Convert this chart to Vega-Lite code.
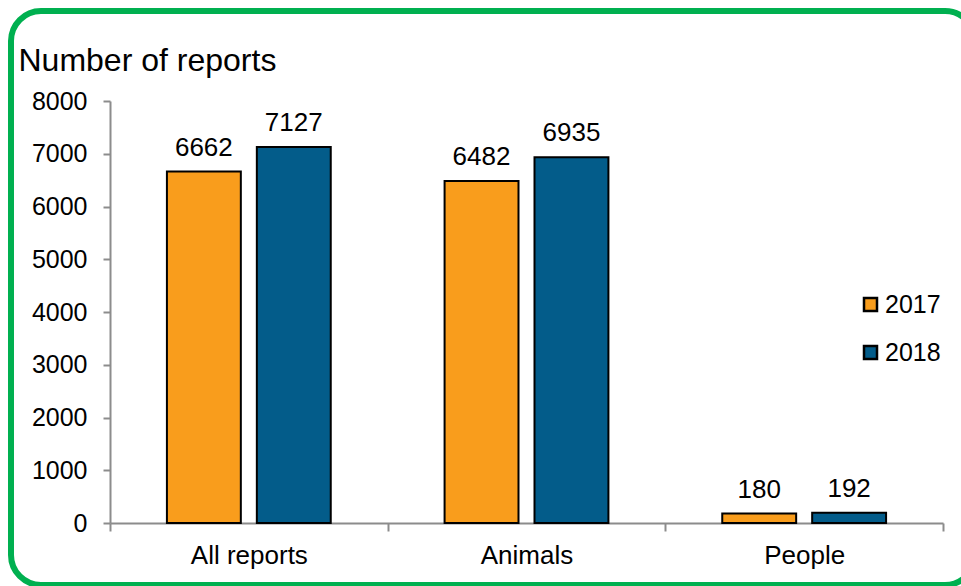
{
  "$schema": "https://vega.github.io/schema/vega-lite/v6.json",
  "width": 833,
  "height": 422,
  "autosize": {"type": "none"},
  "padding": {"left": 110, "top": 101, "right": 18, "bottom": 63},
  "background": "white",
  "config": {
    "view": {"stroke": null},
    "font": "Liberation Sans"
  },
  "layer": [
    {
      "data": {"values": [{"frame": "border"}]},
      "mark": {"type": "rect", "fill": null, "stroke": "#00B050", "strokeWidth": 6, "cornerRadius": 30, "clip": false},
      "encoding": {
        "x": {"value": -99},
        "x2": {"value": 865},
        "y": {"value": -90},
        "y2": {"value": 484}
      }
    },
    {
      "data": {
        "values": [
          {"category": "All reports", "year": "2017", "reports": 6662},
          {"category": "All reports", "year": "2018", "reports": 7127},
          {"category": "Animals", "year": "2017", "reports": 6482},
          {"category": "Animals", "year": "2018", "reports": 6935},
          {"category": "People", "year": "2017", "reports": 180},
          {"category": "People", "year": "2018", "reports": 192}
        ]
      },
      "encoding": {
        "x": {
          "field": "category",
          "type": "nominal",
          "sort": null,
          "scale": {"paddingInner": 0, "paddingOuter": 0},
          "axis": {
            "title": null,
            "labelAngle": 0,
            "labelFontSize": 26,
            "labelColor": "black",
            "labelPadding": 11,
            "tickBand": "extent",
            "tickSize": 8,
            "tickColor": "#8c8c8c",
            "tickWidth": 2,
            "domainColor": "#8c8c8c",
            "domainWidth": 2
          }
        },
        "xOffset": {
          "field": "year",
          "type": "nominal",
          "scale": {"paddingInner": 0.178, "paddingOuter": 0.633}
        },
        "y": {
          "field": "reports",
          "type": "quantitative",
          "scale": {"domain": [0, 8000]},
          "axis": {
            "values": [0, 1000, 2000, 3000, 4000, 5000, 6000, 7000, 8000],
            "format": "d",
            "grid": false,
            "labelFontSize": 25,
            "labelColor": "black",
            "labelPadding": 16,
            "tickSize": 7,
            "tickColor": "#8c8c8c",
            "tickWidth": 2,
            "domainColor": "#8c8c8c",
            "domainWidth": 2,
            "title": "Number of reports",
            "titleAngle": 0,
            "titleAlign": "left",
            "titleBaseline": "alphabetic",
            "titleX": -92,
            "titleY": -31,
            "titleFontSize": 32,
            "titleFontWeight": "normal",
            "titleColor": "black"
          }
        }
      },
      "layer": [
        {
          "mark": {"type": "bar", "stroke": "black", "strokeWidth": 2},
          "encoding": {
            "color": {
              "field": "year",
              "type": "nominal",
              "scale": {"domain": ["2017", "2018"], "range": ["#F99D1C", "#035C8A"]},
              "legend": {
                "title": null,
                "orient": "none",
                "legendX": 748,
                "legendY": 191,
                "symbolType": "square",
                "symbolSize": 169,
                "symbolStrokeColor": "black",
                "symbolStrokeWidth": 2.5,
                "labelFontSize": 25,
                "labelColor": "black",
                "labelOffset": 2,
                "rowPadding": 22
              }
            }
          }
        },
        {
          "mark": {"type": "text", "baseline": "alphabetic", "dy": -16, "fontSize": 26, "color": "black"},
          "encoding": {
            "text": {"field": "reports", "type": "quantitative", "format": "d"}
          }
        }
      ]
    }
  ]
}
